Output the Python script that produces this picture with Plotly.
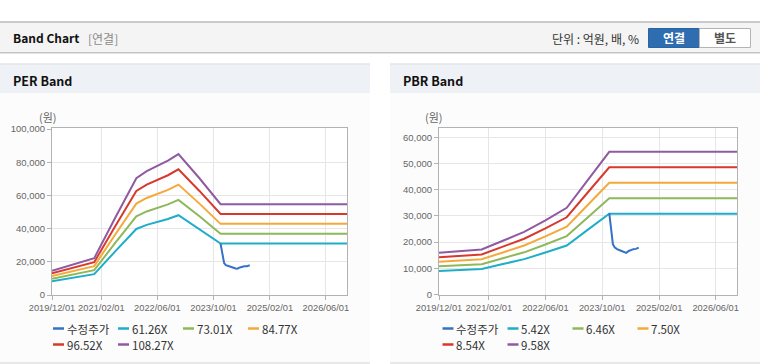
import plotly.graph_objects as go

# ---------------- data ----------------
per_dates = ["2019-12-01", "2020-06-01", "2020-12-01", "2021-06-01", "2021-12-01", "2022-03-01",
             "2022-06-01", "2022-09-01", "2022-12-01", "2023-06-01", "2023-12-01", "2026-12-01"]
per_61_26X = [8270, 10540, 12560, 26340, 39820, 42270, 43990, 45820, 48090, 39820, 31000, 31000]
per_73_01X = [9860, 12560, 14970, 31390, 47460, 50380, 52420, 54610, 57310, 47460, 36940, 36940]
per_84_77X = [11440, 14580, 17380, 36450, 55100, 58490, 60870, 63410, 66540, 55100, 42890, 42890]
per_96_52X = [13030, 16600, 19790, 41500, 62740, 66600, 69300, 72200, 75770, 62740, 48840, 48840]
per_108_27X = [14620, 18620, 22200, 46560, 70380, 74710, 77740, 80990, 84990, 70380, 54780, 54780]

pbr_dates = ["2019-12-01", "2020-06-01", "2020-12-01", "2021-06-01", "2021-12-01", "2022-06-01",
             "2022-12-01", "2023-06-01", "2023-12-01", "2026-12-01"]
pbr_5_42X = [9000, 9300, 9700, 11600, 13500, 16000, 18700, 24750, 30800, 30800]
pbr_6_46X = [10730, 11080, 11560, 13830, 16090, 19070, 22290, 29500, 36710, 36710]
pbr_7_50X = [12450, 12870, 13420, 16050, 18680, 22140, 25880, 34250, 42620, 42620]
pbr_8_54X = [14180, 14650, 15280, 18280, 21270, 25210, 29460, 39000, 48530, 48530]
pbr_9_58X = [15910, 16440, 17150, 20500, 23860, 28280, 33050, 43750, 54440, 54440]

price_dates = ["2023-12-01", "2023-12-12", "2023-12-21", "2024-01-01", "2024-01-16", "2024-02-06",
               "2024-03-10", "2024-04-10", "2024-04-25", "2024-05-16", "2024-06-06", "2024-06-25",
               "2024-07-16", "2024-08-10"]
price_vals = [31000, 26500, 22500, 19200, 18000, 17300, 16700, 16000, 15900, 16600, 17100, 17300,
              17400, 17900]

per_names = ["수정주가", "61.26X", "73.01X", "84.77X", "96.52X", "108.27X"]
pbr_names = ["수정주가", "5.42X", "6.46X", "7.50X", "8.54X", "9.58X"]

x_tick_vals = ["2019-12-01", "2021-02-01", "2022-06-01", "2023-10-01", "2025-02-01", "2026-06-01"]
x_tick_text = ["2019/12/01", "2021/02/01", "2022/06/01", "2023/10/01", "2025/02/01", "2026/06/01"]
x_range = ["2019-12-01", "2026-12-01"]
per_y_ticks = [0, 20000, 40000, 60000, 80000, 100000]
pbr_y_ticks = [0, 10000, 20000, 30000, 40000, 50000, 60000]

# ---------------- style ----------------
W, H = 760, 364
colors = ["#3472c8", "#20adc8", "#8fb85a", "#f4a93b", "#d8392d", "#905aa3"]
XTICK_FONT = dict(family="Liberation Sans, Arial, sans-serif", size=9.3, color="#666666")
YTICK_FONT = dict(family="Liberation Sans, Arial, sans-serif", size=9.5, color="#666666")
KR = "Noto Sans CJK KR, sans-serif"


def fx(x):
    return x / W


def fy(y):
    return 1 - y / H


fig = go.Figure()

per_series = [(price_dates, price_vals), (per_dates, per_61_26X), (per_dates, per_73_01X),
              (per_dates, per_84_77X), (per_dates, per_96_52X), (per_dates, per_108_27X)]
pbr_series = [(price_dates, price_vals), (pbr_dates, pbr_5_42X), (pbr_dates, pbr_6_46X),
              (pbr_dates, pbr_7_50X), (pbr_dates, pbr_8_54X), (pbr_dates, pbr_9_58X)]

# bands first, price on top
for order in [1, 2, 3, 4, 5, 0]:
    d, v = per_series[order]
    fig.add_trace(go.Scatter(x=d, y=v, mode="lines", name=per_names[order],
                             line=dict(color=colors[order], width=2), showlegend=False,
                             xaxis="x", yaxis="y"))
for order in [1, 2, 3, 4, 5, 0]:
    d, v = pbr_series[order]
    fig.add_trace(go.Scatter(x=d, y=v, mode="lines", name=pbr_names[order],
                             line=dict(color=colors[order], width=2), showlegend=False,
                             xaxis="x2", yaxis="y2"))

axis_common = dict(showgrid=True, gridcolor="#e6e6e6", gridwidth=1, showline=True,
                   linecolor="#b2b2b2", linewidth=1, mirror=True, ticks="outside", ticklen=4,
                   tickcolor="#b2b2b2", zeroline=False, automargin=False,
                   fixedrange=True, tickangle=0)

fig.update_layout(
    xaxis=dict(domain=[fx(52), fx(347)], anchor="y", type="date", range=x_range,
               tickvals=x_tick_vals, ticktext=x_tick_text, tickfont=XTICK_FONT, **axis_common),
    yaxis=dict(domain=[fy(295), fy(128.3)], anchor="x", range=[0, 100500],
               tickvals=per_y_ticks, tickformat=",d", tickfont=YTICK_FONT, **axis_common),
    xaxis2=dict(domain=[fx(439), fx(737)], anchor="y2", type="date", range=x_range,
                tickvals=x_tick_vals, ticktext=x_tick_text, tickfont=XTICK_FONT, **axis_common),
    yaxis2=dict(domain=[fy(294.5), fy(128.3)], anchor="x2", range=[0, 63400],
                tickvals=pbr_y_ticks, tickformat=",d", tickfont=YTICK_FONT, **axis_common),
)

shapes = []


def rect(x0, y0, x1, y1, fill, line=None, lw=0):
    shapes.append(dict(type="rect", xref="paper", yref="paper", x0=fx(x0), x1=fx(x1),
                       y0=fy(y1), y1=fy(y0), fillcolor=fill,
                       line=dict(color=line or fill, width=lw), layer="below"))


def hline(x0, x1, y, color, w=1):
    shapes.append(dict(type="line", xref="paper", yref="paper", x0=fx(x0), x1=fx(x1),
                       y0=fy(y), y1=fy(y), line=dict(color=color, width=w), layer="below"))


# header bar
rect(0, 22.5, 760, 52.5, "#f4f4f4")
hline(0, 760, 22, "#b8b8b8", 1.5)
hline(0, 760, 52.5, "#c4c4c4", 1)
hline(0, 760, 53.5, "#e2e2e2", 1)
# buttons
rect(648.5, 28.5, 699.5, 47.5, "#2e6db0", "#2a64a3", 1)
rect(699.5, 28.5, 750.5, 47.5, "#ffffff", "#b4b4b4", 1)

# panels
for px0, px1 in [(0, 370), (390, 760)]:
    rect(px0, 93, px1, 362.5, "#fcfcfc")
    rect(px0, 64.5, px1, 93, "#eef1f6")
    hline(px0, px1, 64, "#d8d8d8", 1)
    hline(px0, px1, 363, "#d4d4d4", 1.2)
# plot areas white
rect(52, 128.3, 347, 295, "#ffffff")
rect(439, 128.3, 737, 294.5, "#ffffff")

annotations = []


def text(x, y, s, size=12, color="#222", anchor="left", family=KR, pad=1):
    annotations.append(dict(xref="paper", yref="paper", x=fx(x), y=fy(y), text=s,
                            showarrow=False, xanchor=anchor, yanchor="middle", borderpad=pad,
                            font=dict(family=family, size=size, color=color)))


text(11, 38, "<b>Band Chart</b>", 12, "#111")
text(86, 38.5, "[연결]", 12, "#8a8a8a")
text(641, 38.5, "단위 : 억원, 배, %", 12, "#333", anchor="right")
text(674, 38, "<b>연결</b>", 12, "#ffffff", anchor="center")
text(725, 38, "<b>별도</b>", 12, "#555555", anchor="center")
text(11, 80, "<b>PER Band</b>", 12.5, "#111")
text(401, 80, "<b>PBR Band</b>", 12.5, "#111")
text(47.5, 117, "(원)", 11, "#666", anchor="center")
text(433.5, 117, "(원)", 11, "#666", anchor="center")


# custom legends
def legend(x_start, names):
    for i, name in enumerate(names):
        col, row = i % 4, i // 4
        lx = x_start + 65 * col
        ly = 328.5 + 16 * row
        shapes.append(dict(type="line", xref="paper", yref="paper", x0=fx(lx), x1=fx(lx + 11),
                           y0=fy(ly), y1=fy(ly), line=dict(color=colors[i], width=2.5)))
        text(lx + 12.5, ly, name, 11.5, "#333", pad=0)


legend(53, per_names)
legend(442.5, pbr_names)

fig.update_layout(width=W, height=H, margin=dict(l=0, r=0, t=0, b=0),
                  paper_bgcolor="#ffffff", plot_bgcolor="rgba(0,0,0,0)",
                  shapes=shapes, annotations=annotations, showlegend=False)

fig.write_html("out.html", config={"displayModeBar": False},
               post_script="document.body.style.margin='0';document.body.style.overflow='hidden';")
